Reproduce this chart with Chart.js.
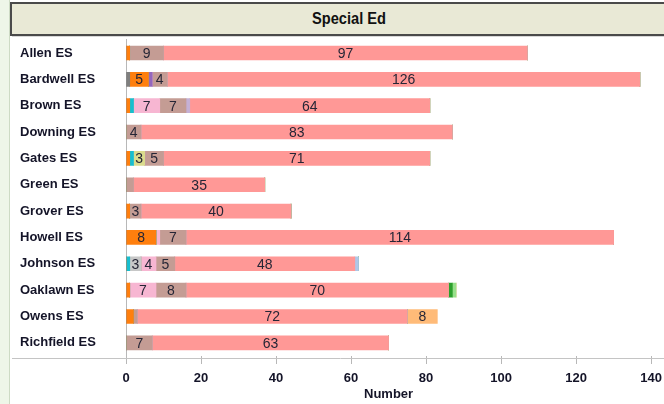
<!DOCTYPE html>
<html>
<head>
    <title>Special Ed</title>
    <script src="https://cdn.jsdelivr.net/npm/chart.js"></script>
    <style>
        body {
            margin: 0;
            width: 664px;
            height: 404px;
            overflow: hidden;
            background: white;
            position: relative;
            font-family: Arial, "Liberation Sans", sans-serif;
        }
        .strip {
            position: absolute;
            left: 0; top: 0;
            width: 9px; height: 404px;
            background: #eef6e8;
            border-right: 1px solid #cddbc4;
        }
        .panel {
            position: absolute;
            left: 12px; top: 36px;
            width: 652px; height: 368px;
            border-top: 1px solid #d8d8d8;
        }
        .title {
            position: absolute;
            left: 10px; top: 2px;
            width: 674px; height: 30px;
            background: #e9e9d6;
            border: 2px solid #4a4a4a;
            text-align: center;
            color: #111;
            z-index: 2;
        }
        .title span {
            display: inline-block;
            font: bold 17px Arial, "Liberation Sans", sans-serif;
            line-height: 30px;
            transform: scaleX(0.86);
        }
        #chart {
            position: absolute;
            left: 12px; top: 29px;
            z-index: 1;
        }
    </style>
</head>
<body>
    <div class="strip"></div>
    <div class="panel"></div>
    <div class="title"><span>Special Ed</span></div>
    <canvas id="chart" width="657" height="375"></canvas>

    <script>
        const schools = ["Allen ES", "Bardwell ES", "Brown ES", "Downing ES", "Gates ES", "Green ES",
                         "Grover ES", "Howell ES", "Johnson ES", "Oaklawn ES", "Owens ES", "Richfield ES"];

        // one array per group, stacked in this order
        const grayVals      = [0, 1, 0, 0, 0, 0, 0, 0, 0, 0, 0, 0];
        const orangeVals    = [1, 5, 1, 0, 1, 0, 1, 8, 0, 1, 2, 0];
        const tealVals      = [0, 0, 1, 0, 1, 0, 0, 0, 1, 0, 0, 0];
        const silverVals    = [0, 0, 0, 0, 0, 0, 0, 0, 3, 0, 0, 0];
        const oliveVals     = [0, 0, 0, 0, 3, 0, 0, 0, 0, 0, 0, 0];
        const purpleVals    = [0, 1, 0, 0, 0, 0, 0, 0, 0, 0, 0, 0];
        const pinkVals      = [0, 0, 7, 0, 0, 0, 0, 1, 4, 7, 0, 0];
        const tanVals       = [9, 4, 7, 4, 5, 2, 3, 7, 5, 8, 1, 7];
        const lavenderVals  = [0, 0, 1, 0, 0, 0, 0, 0, 0, 0, 0, 0];
        const salmonVals    = [97, 126, 64, 83, 71, 35, 40, 114, 48, 70, 72, 63];
        const skyVals       = [0, 0, 0, 0, 0, 0, 0, 0, 1, 0, 0, 0];
        const greenVals     = [0, 0, 0, 0, 0, 0, 0, 0, 0, 1, 0, 0];
        const mintVals      = [0, 0, 0, 0, 0, 0, 0, 0, 0, 1, 0, 0];
        const peachVals     = [0, 0, 0, 0, 0, 0, 0, 0, 0, 0, 8, 0];

        const xTicks = [0, 20, 40, 60, 80, 100, 120, 140];

        const series = [
            ["Gray", grayVals, "#7f7f7f"],
            ["Orange", orangeVals, "#ff7f0e"],
            ["Teal", tealVals, "#17becf"],
            ["Silver", silverVals, "#c7c7c7"],
            ["Olive", oliveVals, "#dbdb8d"],
            ["Purple", purpleVals, "#9467bd"],
            ["Pink", pinkVals, "#f7b6d2"],
            ["Tan", tanVals, "#c49c94"],
            ["Lavender", lavenderVals, "#c5b0d5"],
            ["Salmon", salmonVals, "#ff9896"],
            ["Sky", skyVals, "#aec7e8"],
            ["Green", greenVals, "#2ca02c"],
            ["Mint", mintVals, "#98df8a"],
            ["Peach", peachVals, "#ffbb78"]
        ];

        // draw the value in the middle of each segment big enough to hold it
        const segmentLabels = {
            id: "segmentLabels",
            afterDatasetsDraw(chart) {
                const ctx = chart.ctx;
                ctx.save();
                ctx.font = "14px Arial, 'Liberation Sans', sans-serif";
                ctx.fillStyle = "#262636";
                ctx.textAlign = "center";
                ctx.textBaseline = "middle";
                chart.data.datasets.forEach((ds, i) => {
                    chart.getDatasetMeta(i).data.forEach((bar, j) => {
                        const v = ds.data[j];
                        if (v >= 3) {
                            ctx.fillText(String(v), (bar.x + bar.base) / 2, bar.y + 1);
                        }
                    });
                });
                ctx.restore();
            }
        };

        // long bottom rule of the panel
        const panelRule = {
            id: "panelRule",
            afterDraw(chart) {
                const ctx = chart.ctx;
                const y = chart.chartArea.bottom + 2.5;
                ctx.save();
                ctx.strokeStyle = "#c4c4c4";
                ctx.lineWidth = 1;
                ctx.beginPath();
                ctx.moveTo(0, y);
                ctx.lineTo(chart.width, y);
                ctx.stroke();
                ctx.restore();
            }
        };

        new Chart(document.getElementById("chart"), {
            type: "bar",
            data: {
                labels: schools,
                datasets: series.map(s => ({
                    label: s[0],
                    data: s[1],
                    backgroundColor: s[2],
                    borderWidth: 0,
                    barThickness: 14
                }))
            },
            options: {
                indexAxis: "y",
                responsive: false,
                animation: false,
                layout: { padding: { left: 8, top: 0, right: 0, bottom: 0 } },
                plugins: {
                    legend: { display: false },
                    tooltip: { enabled: false }
                },
                scales: {
                    x: {
                        stacked: true,
                        min: 0,
                        max: 140,
                        afterBuildTicks: axis => { axis.ticks = xTicks.map(v => ({ value: v })); },
                        afterFit: scale => { scale.height = 48; },
                        grid: {
                            drawOnChartArea: false,
                            drawTicks: true,
                            tickLength: 8,
                            color: "#b8b8b8"
                        },
                        border: { display: false },
                        ticks: {
                            color: "#141428",
                            font: { family: "Arial, 'Liberation Sans', sans-serif", size: 13, weight: "bold" },
                            padding: 7,
                            maxRotation: 0
                        },
                        title: {
                            display: true,
                            text: "Number",
                            color: "#141428",
                            font: { family: "Arial, 'Liberation Sans', sans-serif", size: 13, weight: "bold" },
                            padding: { top: 0, bottom: 2 }
                        }
                    },
                    y: {
                        stacked: true,
                        afterFit: scale => { scale.width = 106; },
                        grid: { display: false },
                        border: { display: true, color: "#b8b8b8", width: 1 },
                        ticks: {
                            crossAlign: "far",
                            color: "#141428",
                            font: { family: "Arial, 'Liberation Sans', sans-serif", size: 13, weight: "bold" }
                        }
                    }
                }
            },
            plugins: [segmentLabels, panelRule]
        });
    </script>
</body>
</html>
